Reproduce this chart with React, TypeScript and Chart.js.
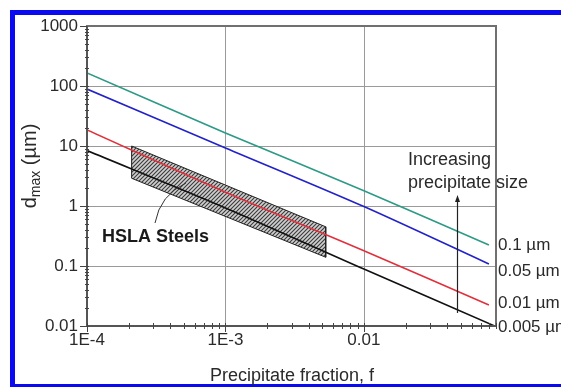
import React, { useEffect, useRef } from "react";
import { Chart, registerables } from "chart.js";

Chart.register(...registerables);

// ---- data ----
const fractionTicks = [1e-4, 1e-3, 1e-2];
const fractionTickLabels = ["1E-4", "1E-3", "0.01"];
const sizeTicks = [0.01, 0.1, 1, 10, 100, 1000];
const sizeTickLabels = ["0.01", "0.1", "1", "10", "100", "1000"];

const fractionMin = 1e-4;
const fractionMax = 0.09;
const sizeMin = 0.01;
const sizeMax = 1000;

const fractionPoints = [1e-4, 1e-3, 1e-2, 0.08];
const fractionPointsBlack = [1e-4, 1e-3, 1e-2, 0.09];
const green01 = [165, 16.5, 1.8, 0.224];
const blue005 = [89, 9.3, 0.98, 0.108];
const red001 = [18.5, 1.7, 0.18, 0.0224];
const black0005 = [8.4, 0.93, 0.089, 0.0098];

const hslaFraction = [2.1e-4, 5.3e-3, 5.3e-3, 2.1e-4, 2.1e-4];
const hslaSize = [10, 0.45, 0.14, 2.9, 10];

const seriesLabels = ["0.1 \u00b5m", "0.05 \u00b5m", "0.01 \u00b5m", "0.005 \u00b5m"];

const arrowFraction = 0.047;
const arrowFrom = 0.0165;
const arrowTo = 1.52;

function makePattern(): CanvasPattern | string {
  const c = document.createElement("canvas");
  c.width = 4;
  c.height = 4;
  const g = c.getContext("2d");
  if (!g) return "#999";
  g.fillStyle = "#cfcfcf";
  g.fillRect(0, 0, 4, 4);
  g.strokeStyle = "#3a3a3a";
  g.lineWidth = 1.1;
  g.beginPath();
  g.moveTo(0, 4);
  g.lineTo(4, 0);
  g.moveTo(-1, 1);
  g.lineTo(1, -1);
  g.moveTo(3, 5);
  g.lineTo(5, 3);
  g.stroke();
  const p = g.createPattern(c, "repeat");
  return p || "#999";
}

const FONT = "'Liberation Sans', Arial, sans-serif";

const decorPlugin = {
  id: "decor",
  beforeDraw(chart: any) {
    const ctx = chart.ctx;
    ctx.save();
    ctx.fillStyle = "#ffffff";
    ctx.fillRect(0, 0, chart.width, chart.height);
    ctx.fillStyle = "#0a0af0";
    ctx.fillRect(10, 10, chart.width - 10, 5);
    ctx.fillRect(10, 10, 5, chart.height - 10);
    ctx.fillRect(10, 384, chart.width - 10, 3);
    ctx.restore();
  },
  beforeDatasetsDraw(chart: any) {
    const ctx = chart.ctx;
    const { left, right, top, bottom } = chart.chartArea;
    const xs = chart.scales.x;
    const ys = chart.scales.y;
    ctx.save();
    ctx.strokeStyle = "#9a9a9a";
    ctx.lineWidth = 1;
    ctx.beginPath();
    fractionTicks.forEach((v) => {
      const px = Math.round(xs.getPixelForValue(v)) + 0.5;
      if (px > left + 2 && px < right - 2) {
        ctx.moveTo(px, top);
        ctx.lineTo(px, bottom);
      }
    });
    sizeTicks.forEach((v) => {
      const py = Math.round(ys.getPixelForValue(v)) + 0.5;
      if (py > top + 2 && py < bottom - 2) {
        ctx.moveTo(left, py);
        ctx.lineTo(right, py);
      }
    });
    ctx.stroke();
    ctx.restore();
  },
  afterDatasetsDraw(chart: any) {
    const ctx = chart.ctx;
    const { left, right, top, bottom } = chart.chartArea;
    const xs = chart.scales.x;
    const ys = chart.scales.y;
    ctx.save();
    // frame
    ctx.strokeStyle = "#707070";
    ctx.lineWidth = 2;
    ctx.strokeRect(left, top, right - left, bottom - top);
    ctx.strokeStyle = "#555";
    ctx.lineWidth = 2;
    ctx.beginPath();
    ctx.moveTo(left, bottom);
    ctx.lineTo(right, bottom);
    ctx.moveTo(left, top);
    ctx.lineTo(left, bottom);
    ctx.stroke();
    // ticks
    ctx.strokeStyle = "#444";
    ctx.lineWidth = 1;
    ctx.beginPath();
    for (let e = -2; e <= 3; e++) {
      for (let m = 1; m <= 9; m++) {
        const v = m * Math.pow(10, e - 1);
        if (v < sizeMin || v > sizeMax) continue;
        const py = Math.round(ys.getPixelForValue(v)) + 0.5;
        if (m === 1) {
          ctx.moveTo(left - 7, py);
          ctx.lineTo(left + 2, py);
        } else {
          ctx.moveTo(left - 2, py);
          ctx.lineTo(left + 2, py);
        }
      }
    }
    const last = Math.round(ys.getPixelForValue(1000)) + 0.5;
    ctx.moveTo(left - 7, last);
    ctx.lineTo(left, last);
    for (let e = -4; e <= -2; e++) {
      for (let m = 1; m <= 9; m++) {
        const v = m * Math.pow(10, e);
        if (v < fractionMin || v > fractionMax * 1.001) continue;
        const px = Math.round(xs.getPixelForValue(v)) + 0.5;
        if (m === 1) {
          ctx.moveTo(px, bottom - 3);
          ctx.lineTo(px, bottom + 6);
        } else {
          ctx.moveTo(px, bottom - 3);
          ctx.lineTo(px, bottom + 3);
        }
      }
    }
    ctx.stroke();
    ctx.restore();
  },
  afterDraw(chart: any) {
    const ctx = chart.ctx;
    const xs = chart.scales.x;
    const ys = chart.scales.y;
    const { left, right } = chart.chartArea;
    ctx.save();
    ctx.fillStyle = "#2a2a2a";
    // x title
    ctx.font = `18px ${FONT}`;
    ctx.textAlign = "center";
    ctx.textBaseline = "alphabetic";
    ctx.fillText("Precipitate fraction, f", 292, 381);
    // y title with subscript
    ctx.save();
    ctx.translate(36, 166);
    ctx.rotate(-Math.PI / 2);
    const bigF = `20px ${FONT}`;
    const smallF = `14px ${FONT}`;
    ctx.font = bigF;
    const wd = ctx.measureText("d").width;
    const wrest = ctx.measureText(" (\u00b5m)").width;
    ctx.font = smallF;
    const wsub = ctx.measureText("max").width;
    const total = wd + wsub + wrest;
    let x0 = -total / 2;
    ctx.textAlign = "left";
    ctx.font = bigF;
    ctx.fillText("d", x0, 0);
    x0 += wd;
    ctx.font = smallF;
    ctx.fillText("max", x0, 4);
    x0 += wsub;
    ctx.font = bigF;
    ctx.fillText(" (\u00b5m)", x0, 0);
    ctx.restore();
    // series labels
    ctx.font = `17px ${FONT}`;
    ctx.textAlign = "left";
    ctx.textBaseline = "middle";
    const labelY = [245, 271, 303, 327];
    seriesLabels.forEach((t, i) => ctx.fillText(t, right + 2, labelY[i]));
    // HSLA text
    ctx.font = `bold 18px ${FONT}`;
    ctx.textBaseline = "alphabetic";
    ctx.fillStyle = "#1a1a1a";
    ctx.fillText("HSLA Steels", 102, 242);
    // pointer
    ctx.strokeStyle = "#333";
    ctx.lineWidth = 1;
    ctx.beginPath();
    ctx.moveTo(155, 223);
    ctx.quadraticCurveTo(160, 195, 186, 183);
    ctx.stroke();
    // increasing text
    ctx.font = `18px ${FONT}`;
    ctx.fillStyle = "#2a2a2a";
    ctx.fillText("Increasing", 408, 165);
    ctx.fillText("precipitate size", 408, 188);
    // arrow
    const ax = Math.round(xs.getPixelForValue(arrowFraction)) + 0.5;
    const ay0 = ys.getPixelForValue(arrowFrom);
    const ay1 = ys.getPixelForValue(arrowTo);
    ctx.strokeStyle = "#222";
    ctx.lineWidth = 1.2;
    ctx.beginPath();
    ctx.moveTo(ax, ay0);
    ctx.lineTo(ax, ay1 + 5);
    ctx.stroke();
    ctx.fillStyle = "#222";
    ctx.beginPath();
    ctx.moveTo(ax, ay1);
    ctx.lineTo(ax - 2.5, ay1 + 7);
    ctx.lineTo(ax + 2.5, ay1 + 7);
    ctx.closePath();
    ctx.fill();
    ctx.restore();
  },
};

export default function App() {
  const ref = useRef<HTMLCanvasElement | null>(null);
  useEffect(() => {
    if (!ref.current) return;
    const mk = (xs: number[], ys: number[]) => xs.map((x, i) => ({ x, y: ys[i] }));
    const lineDs = (label: string, data: any, color: string) => ({
      label,
      data,
      borderColor: color,
      backgroundColor: color,
      borderWidth: 1.6,
      pointRadius: 0,
      tension: 0.3,
      fill: false,
      order: 1,
    });
    const chart = new Chart(ref.current, {
      type: "line",
      data: {
        datasets: [
          lineDs(seriesLabels[0], mk(fractionPoints, green01), "#2c9a86"),
          lineDs(seriesLabels[1], mk(fractionPoints, blue005), "#2222c8"),
          lineDs(seriesLabels[2], mk(fractionPoints, red001), "#e0303c"),
          lineDs(seriesLabels[3], mk(fractionPointsBlack, black0005), "#111111"),
          {
            label: "HSLA Steels",
            data: mk(hslaFraction, hslaSize),
            borderColor: "#222",
            borderWidth: 1,
            backgroundColor: makePattern() as any,
            pointRadius: 0,
            tension: 0,
            fill: "shape",
            order: 10,
          } as any,
        ],
      },
      options: {
        responsive: false,
        animation: false,
        events: [],
        layout: { padding: { left: 0, top: 26, right: 65, bottom: 0 } },
        plugins: { legend: { display: false }, tooltip: { enabled: false } },
        scales: {
          x: {
            type: "logarithmic",
            min: fractionMin,
            max: fractionMax,
            grid: { display: false, drawTicks: false },
            border: { display: false },
            afterBuildTicks: (s: any) => {
              s.ticks = fractionTicks.map((v) => ({ value: v }));
            },
            afterFit: (s: any) => {
              s.height = 61;
            },
            ticks: {
              autoSkip: false,
              maxRotation: 0,
              padding: 4,
              color: "#2a2a2a",
              font: { family: FONT, size: 17 },
              callback: (_v: any, i: number) => fractionTickLabels[i],
            },
          },
          y: {
            type: "logarithmic",
            min: sizeMin,
            max: sizeMax,
            grid: { display: false, drawTicks: false },
            border: { display: false },
            afterBuildTicks: (s: any) => {
              s.ticks = sizeTicks.map((v) => ({ value: v }));
            },
            afterFit: (s: any) => {
              s.width = 87;
            },
            ticks: {
              autoSkip: false,
              padding: 9,
              color: "#2a2a2a",
              font: { family: FONT, size: 17 },
              callback: (_v: any, i: number) => sizeTickLabels[i],
            },
          },
        },
      },
      plugins: [decorPlugin],
    });
    return () => chart.destroy();
  }, []);
  return (
    <canvas
      ref={ref}
      width={561}
      height={387}
      style={{ position: "fixed", left: 0, top: 0, display: "block" }}
    />
  );
}
